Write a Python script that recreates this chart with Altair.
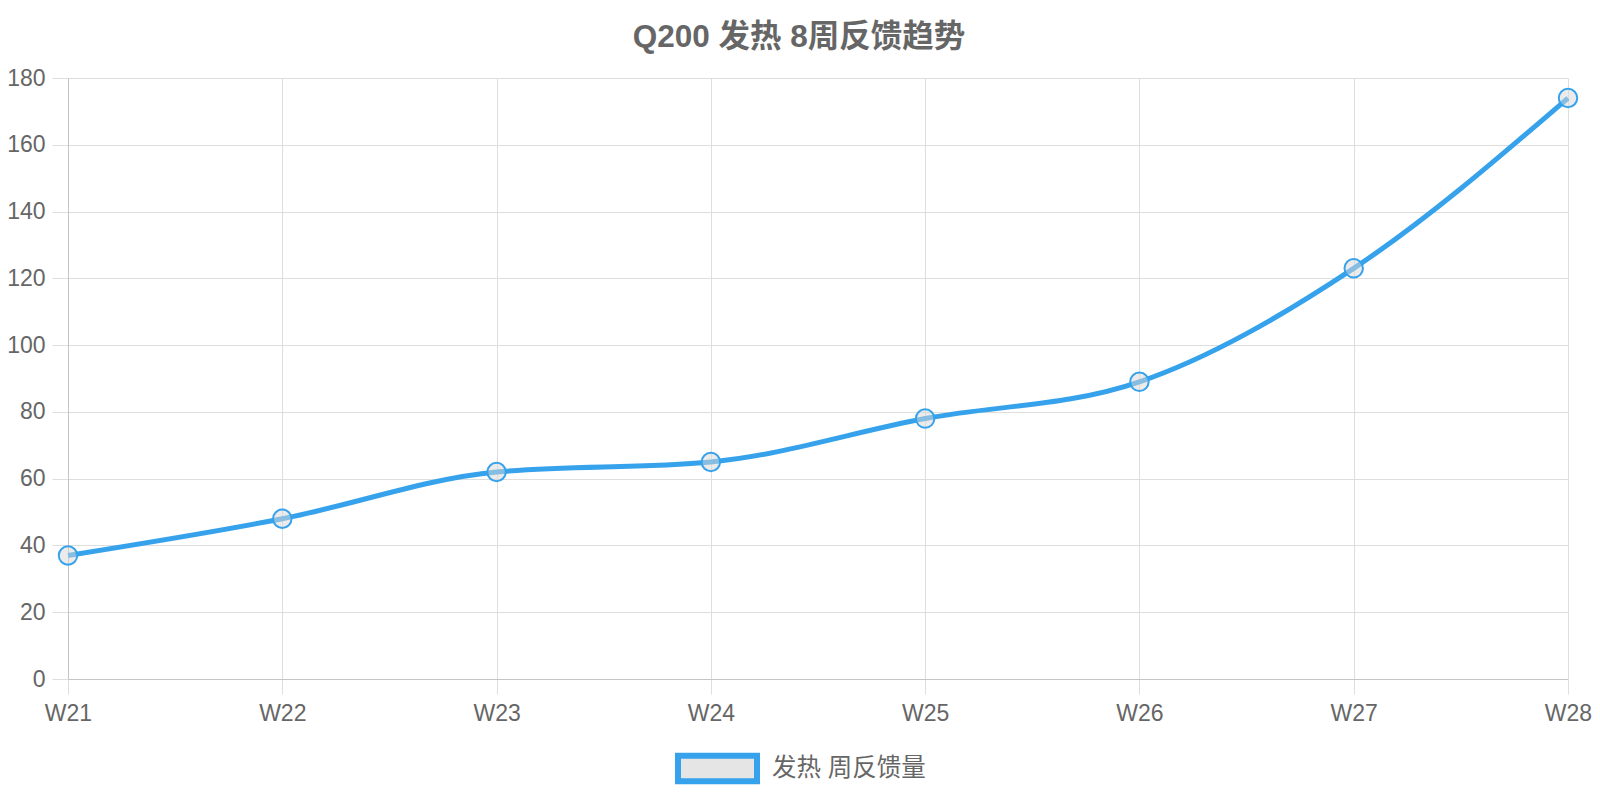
import altair as alt
import pandas as pd

weeks = ["W21", "W22", "W23", "W24", "W25", "W26", "W27", "W28"]
values = [37, 48, 62, 65, 78, 89, 123, 174]
series_name = "发热 周反馈量"
title_text = "Q200 发热 8周反馈趋势"
y_ticks = [0, 20, 40, 60, 80, 100, 120, 140, 160, 180]

df = pd.DataFrame({"week": weeks, "value": values, "series": [series_name] * len(weeks)})

FONT = "Liberation Sans, Arial, Noto Sans CJK SC, sans-serif"
BLUE = "#36a2eb"
TXT = "#666666"
GRID = "#dedede"
DOMAIN = "#c4c4c4"

x = alt.X(
    "week:N",
    sort=weeks,
    scale=alt.Scale(type="point", padding=0),
    axis=alt.Axis(
        title=None, labelAngle=0, labelFont=FONT, labelFontSize=23, labelColor=TXT,
        tickSize=15, tickColor=GRID, grid=True, gridColor=GRID, domainColor=DOMAIN,
        labelPadding=8,
    ),
)
y = alt.Y(
    "value:Q",
    scale=alt.Scale(domain=[0, 180], nice=False),
    axis=alt.Axis(
        title=None, values=y_ticks, labelFont=FONT, labelFontSize=23, labelColor=TXT,
        tickSize=16, tickColor=GRID, grid=True, gridColor=GRID, domainColor=DOMAIN,
        labelPadding=7,
    ),
)

line = alt.Chart(df).mark_line(interpolate="monotone", strokeWidth=5).encode(
    x=x,
    y=y,
    color=alt.Color(
        "series:N",
        scale=alt.Scale(range=[BLUE]),
        legend=alt.Legend(
            title=None,
            orient="none",
            legendX=607,
            legendY=648,
            symbolType="M-1,-0.32H1V0.32H-1Z",
            symbolSize=6241,
            symbolStrokeWidth=6,
            symbolFillColor="#e5e5e5",
            symbolOpacity=1,
            labelFont=FONT,
            labelFontSize=24.5,
            labelColor=TXT,
            labelOffset=12,
        ),
    ),
)

points = alt.Chart(df).mark_circle(
    size=340, fill="#d8d8d8", fillOpacity=0.5, stroke=BLUE, strokeWidth=2, opacity=1
).encode(x=x, y=y)

chart = (
    alt.layer(line, points)
    .properties(
        width=1500,
        height=601,
        title=alt.TitleParams(
            title_text, font=FONT, fontSize=31.5, fontWeight="bold", color=TXT,
            anchor="middle", dx=-19, offset=14,
        ),
        autosize=alt.AutoSizeParams(type="none"),
        padding={"left": 60, "top": 70, "right": 24, "bottom": 106},
    )
    .configure_view(stroke=None)
)

chart.save("out.html", embed_options={"renderer": "svg", "actions": False})
